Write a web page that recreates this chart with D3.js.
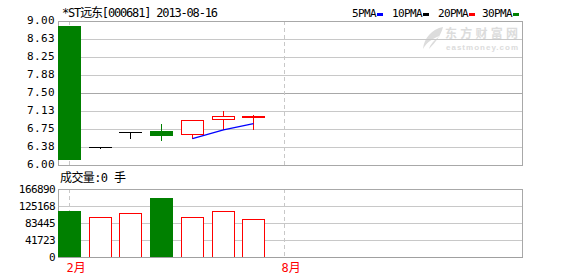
<!DOCTYPE html>
<html>
<head>
<meta charset="utf-8">
<script src="https://cdn.jsdelivr.net/npm/d3@7"></script>
<style>
  html, body { margin: 0; padding: 0; background: #fff; }
  svg { display: block; }
  text { font-family: "DejaVu Sans Mono", "Noto Sans CJK SC", monospace; font-size: 11px; fill: #000; }
</style>
</head>
<body>
<div id="chart"></div>
<script>
// Candles
const opens  = [8.90, 6.37, 6.68, 6.71, 6.64, 6.95, 6.99];
const closes = [6.12, 6.37, 6.68, 6.63, 6.93, 7.03, 7.03];
const highs  = [8.90, 6.37, 6.68, 6.88, 6.93, 7.15, 7.06];
const lows   = [6.12, 6.35, 6.57, 6.53, 6.57, 6.74, 6.76];
const ma5    = [null, null, null, null, 6.55, 6.73, 6.86];
const volumes = [112900, 97400, 108000, 144800, 97400, 112200, 92500];

const priceTicks = [6, 6.375, 6.75, 7.125, 7.5, 7.875, 8.25, 8.625, 9];
const volumeTicks = [0, 41723, 83445, 125168, 166890];
const monthLabels = ['2月', '8月'];
const monthSlots = [0, 7];
const legendNames = ['5PMA', '10PMA', '20PMA', '30PMA'];
const legendColors = ['#0000ff', '#000000', '#ff0000', '#008000'];

const title = '*ST远东[000681] 2013-08-16';
const volumeTitle = '成交量:0 手';

// Layout
const W = 578, H = 276;
const plotLeft = 58, plotRight = 522;
const priceTop = 21, priceBottom = 165;
const volTop = 189, volBottom = 257;
const slotCount = 15;

const svg = d3.select('#chart').append('svg')
    .attr('width', W).attr('height', H)
    .attr('shape-rendering', 'crispEdges');

// Scales
const xScale = d3.scaleBand()
    .domain(d3.range(slotCount))
    .range([54, 515])
    .paddingInner(0.25)
    .paddingOuter(0.125);
const bw = Math.round(xScale.bandwidth());
const xl = i => Math.round(xScale(i));
const xc = i => xl(i) + Math.floor(bw / 2) + 0.5;

const yPrice = d3.scaleLinear().domain([6, 9]).range([priceBottom, priceTop]);
const yVol = d3.scaleLinear().domain([0, 166890]).range([volBottom, volTop]);
const py = v => Math.round(yPrice(v)) + 0.5;
const vy = v => Math.round(yVol(v)) + 0.5;

// Watermark
const wm = svg.append('g').attr('shape-rendering', 'auto');
wm.append('path')
    .attr('d', 'M443,27 C432,29 424,38 423,49 C427,42 433,38 440,36 C434,40 430,45 429,49 C436,42 441,35 443,27 Z')
    .attr('fill', '#dcdcdc');
wm.append('text').attr('x', 445).attr('y', 38)
    .style('font-family', '"Noto Sans CJK SC"').style('font-size', '12px').style('font-weight', 'bold')
    .attr('textLength', 73).style('fill', '#dcdcdc').text('东方财富网');
wm.append('text').attr('x', 446).attr('y', 50)
    .style('font-family', 'Arial, "Liberation Sans"').style('font-size', '8px').style('font-weight', 'bold')
    .attr('textLength', 72).style('fill', '#dcdcdc').text('eastmoney.com');

// Price gridlines
svg.append('g').selectAll('line')
    .data(priceTicks.slice(1, -1))
    .join('line')
    .attr('x1', plotLeft).attr('x2', plotRight)
    .attr('y1', d => py(d)).attr('y2', d => py(d))
    .attr('stroke', d => d === 7.5 ? '#a8a8a8' : '#c8c8c8');

// Volume gridlines
svg.append('g').selectAll('line')
    .data(volumeTicks.slice(1, -1))
    .join('line')
    .attr('x1', plotLeft).attr('x2', plotRight)
    .attr('y1', d => vy(d)).attr('y2', d => vy(d))
    .attr('stroke', '#c8c8c8');

// Month dashed lines
monthSlots.forEach(s => {
    [[priceTop, priceBottom], [volTop, volBottom]].forEach(([a, b]) => {
        svg.append('line')
            .attr('x1', xc(s)).attr('x2', xc(s))
            .attr('y1', a).attr('y2', b)
            .attr('stroke', '#c8c8c8')
            .attr('stroke-dasharray', '4,3');
    });
});

// Panel borders
svg.append('rect')
    .attr('x', plotLeft + 0.5).attr('y', priceTop + 0.5)
    .attr('width', plotRight - plotLeft).attr('height', priceBottom - priceTop)
    .attr('fill', 'none').attr('stroke', '#a8a8a8');
svg.append('rect')
    .attr('x', plotLeft + 0.5).attr('y', volTop + 0.5)
    .attr('width', plotRight - plotLeft).attr('height', volBottom - volTop)
    .attr('fill', 'none').attr('stroke', '#a8a8a8');

// Candles
const candleColor = i => closes[i] > opens[i] ? '#ff0000' : (closes[i] < opens[i] ? '#008000' : '#000000');
const candles = svg.append('g').selectAll('g')
    .data(d3.range(opens.length))
    .join('g');

candles.append('line')
    .attr('x1', i => xc(i)).attr('x2', i => xc(i))
    .attr('y1', i => py(highs[i])).attr('y2', i => py(lows[i]))
    .attr('stroke', candleColor);

candles.each(function (i) {
    const g = d3.select(this);
    const top = py(Math.max(opens[i], closes[i]));
    const bot = py(Math.min(opens[i], closes[i]));
    if (closes[i] > opens[i]) {
        g.append('rect')
            .attr('x', xl(i) + 0.5).attr('y', top)
            .attr('width', bw - 1).attr('height', bot - top)
            .attr('fill', '#fff').attr('stroke', '#ff0000');
    } else if (closes[i] < opens[i]) {
        g.append('rect')
            .attr('x', xl(i)).attr('y', top - 0.5)
            .attr('width', bw).attr('height', bot - top + 1)
            .attr('fill', '#008000');
    } else {
        g.append('line')
            .attr('x1', xl(i)).attr('x2', xl(i) + bw)
            .attr('y1', top).attr('y2', top)
            .attr('stroke', '#000');
    }
});

// 5-period moving average
const maLine = d3.line()
    .defined(d => d !== null)
    .x((d, i) => xc(i))
    .y(d => yPrice(d));
svg.append('path')
    .attr('d', maLine(ma5))
    .attr('fill', 'none')
    .attr('stroke', '#0000ff')
    .attr('stroke-width', 1.3)
    .attr('shape-rendering', 'auto');

// Volume bars
const vbars = svg.append('g').selectAll('rect')
    .data(volumes)
    .join('rect');
vbars.each(function (v, i) {
    const r = d3.select(this);
    const top = vy(v);
    if (closes[i] < opens[i]) {
        r.attr('x', xl(i)).attr('y', top - 0.5)
            .attr('width', bw).attr('height', volBottom - top + 0.5)
            .attr('fill', '#008000');
    } else {
        r.attr('x', xl(i) + 0.5).attr('y', top)
            .attr('width', bw - 1).attr('height', volBottom - top)
            .attr('fill', '#fff').attr('stroke', '#ff0000');
    }
});

// Bottom axis line of volume panel
svg.append('line')
    .attr('x1', plotLeft).attr('x2', plotRight + 1)
    .attr('y1', volBottom + 0.5).attr('y2', volBottom + 0.5)
    .attr('stroke', '#a0a0a0');

// Axis labels
const fmtPrice = d3.format('.2f');
svg.append('g').selectAll('text')
    .data(priceTicks)
    .join('text')
    .attr('x', 55)
    .attr('y', d => yPrice(d) + 3)
    .attr('text-anchor', 'end')
    .style('letter-spacing', '0.4px')
    .text(d => fmtPrice(d));

svg.append('g').selectAll('text')
    .data(volumeTicks)
    .join('text')
    .attr('x', 55)
    .attr('y', d => yVol(d) + 4)
    .attr('text-anchor', 'end')
    .style('letter-spacing', '-0.6px')
    .text(d => d);

// Month labels
svg.append('g').selectAll('text')
    .data(monthLabels)
    .join('text')
    .attr('x', (d, i) => xc(monthSlots[i]) - 3)
    .attr('y', 272)
    .style('fill', '#ff0000')
    .style('font-size', '12px')
    .text(d => d);

// Titles
svg.append('text')
    .attr('x', 62).attr('y', 17)
    .style('font-size', '12px')
    .attr('textLength', 156)
    .attr('lengthAdjust', 'spacing')
    .text(title);

svg.append('text')
    .attr('x', 60).attr('y', 182)
    .style('font-size', '12px')
    .attr('textLength', 66)
    .attr('lengthAdjust', 'spacing')
    .text(volumeTitle);

// Legend
const legendX = [352, 392, 438, 482];
const legend = svg.append('g').selectAll('g')
    .data(legendNames)
    .join('g')
    .attr('transform', (d, i) => 'translate(' + legendX[i] + ',0)');
legend.append('text')
    .attr('y', 17)
    .style('font-size', '11px')
    .style('letter-spacing', '-0.6px')
    .text(d => d);
legend.append('rect')
    .attr('x', (d) => d.length * 6 + 1)
    .attr('y', 13)
    .attr('width', 6).attr('height', 3)
    .attr('fill', (d, i) => legendColors[i]);
</script>
</body>
</html>
